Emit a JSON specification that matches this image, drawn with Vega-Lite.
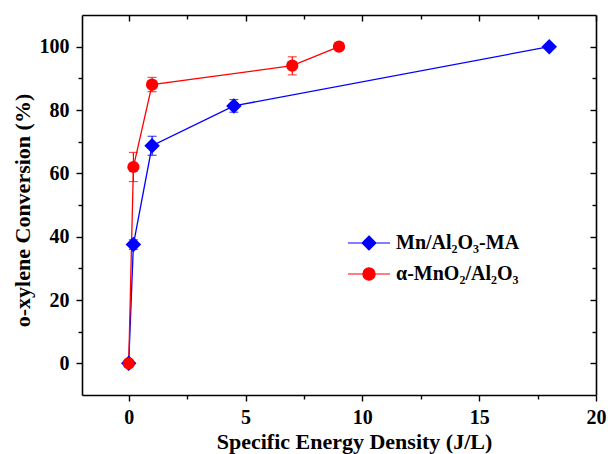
{
  "$schema": "https://vega.github.io/schema/vega-lite/v6.json",
  "width": 514,
  "height": 380,
  "autosize": "none",
  "padding": {"left": 82, "top": 15, "right": 12, "bottom": 59},
  "background": "white",
  "config": {"view": {"stroke": null}, "font": "Liberation Serif"},
  "data": {
    "values": [
      {"series": "Mn/Al₂O₃-MA", "x": 0, "y": 0},
      {"series": "Mn/Al₂O₃-MA", "x": 0.2, "y": 37.5, "lo": 36, "hi": 39},
      {"series": "Mn/Al₂O₃-MA", "x": 1, "y": 68.7, "lo": 65.7, "hi": 71.7},
      {"series": "Mn/Al₂O₃-MA", "x": 4.5, "y": 81.3, "lo": 79.3, "hi": 83.3},
      {"series": "Mn/Al₂O₃-MA", "x": 18, "y": 100},
      {"series": "α-MnO₂/Al₂O₃", "x": 0, "y": 0},
      {"series": "α-MnO₂/Al₂O₃", "x": 0.2, "y": 62, "lo": 57.4, "hi": 66.6},
      {"series": "α-MnO₂/Al₂O₃", "x": 1, "y": 88, "lo": 85.8, "hi": 90.3},
      {"series": "α-MnO₂/Al₂O₃", "x": 7, "y": 94, "lo": 91.1, "hi": 96.8},
      {"series": "α-MnO₂/Al₂O₃", "x": 9, "y": 100}
    ]
  },
  "resolve": {"axis": {"x": "independent", "y": "independent"}},
  "layer": [
    {
      "mark": {"type": "line", "strokeWidth": 1.3},
      "encoding": {
        "x": {
          "field": "x", "type": "quantitative",
          "scale": {"domain": [-2, 20], "nice": false, "zero": false},
          "axis": {
            "orient": "bottom",
            "values": [0, 2.5, 5, 7.5, 10, 12.5, 15, 17.5, 20],
            "labelExpr": "datum.value % 5 === 0 ? format(datum.value, 'd') : ''",
            "tickSize": {"condition": {"test": "datum.value % 5 === 0", "value": 6}, "value": 4},
            "title": "Specific Energy Density (J/L)",
            "grid": false,
            "labelFont": "Liberation Serif", "labelFontSize": 20, "labelFontWeight": "bold", "labelColor": "black",
            "labelPadding": 6, "labelFlush": false,
            "titleFont": "Liberation Serif", "titleFontSize": 22, "titleFontWeight": "bold", "titleColor": "black",
            "titlePadding": 4, "titleX": 272,
            "domainColor": "black", "domainWidth": 1.6, "tickColor": "black", "tickWidth": 1.4
          }
        },
        "y": {
          "field": "y", "type": "quantitative",
          "scale": {"domain": [-10, 110], "nice": false, "zero": false},
          "axis": {
            "orient": "left",
            "values": [0, 10, 20, 30, 40, 50, 60, 70, 80, 90, 100],
            "labelExpr": "datum.value % 20 === 0 ? format(datum.value, 'd') : ''",
            "tickSize": {"condition": {"test": "datum.value % 20 === 0", "value": 6}, "value": 4},
            "title": "o-xylene Conversion (%)",
            "grid": false,
            "labelFont": "Liberation Serif", "labelFontSize": 20, "labelFontWeight": "bold", "labelColor": "black",
            "labelPadding": 7, "labelFlush": false,
            "titleFont": "Liberation Serif", "titleFontSize": 22, "titleFontWeight": "bold", "titleColor": "black",
            "titlePadding": 5, "titleY": 195,
            "domainColor": "black", "domainWidth": 1.6, "tickColor": "black", "tickWidth": 1.4
          }
        },
        "color": {
          "field": "series", "type": "nominal",
          "scale": {"domain": ["Mn/Al₂O₃-MA", "α-MnO₂/Al₂O₃"], "range": ["#0000ff", "#ff0000"]},
          "legend": {
            "orient": "none", "legendX": 277, "legendY": 218, "title": null, "padding": 0,
            "labelFont": "Liberation Serif", "labelFontSize": 20, "labelFontWeight": "bold", "labelColor": "black",
            "symbolSize": 196, "labelOffset": 17, "rowPadding": 11,
            "encode": {
              "symbols": {
                "update": {
                  "shape": [
                    {"test": "indexof(datum.value, 'MA') >= 0", "value": "M-3,0H3M0,-1L1,0L0,1L-1,0Z"},
                    {"value": "M-3,0H3M-0.88,0A0.88,0.88,0,1,0,0.88,0A0.88,0.88,0,1,0,-0.88,0Z"}
                  ],
                  "fill": [
                    {"test": "indexof(datum.value, 'MA') >= 0", "value": "#0000ff"},
                    {"value": "#ff0000"}
                  ],
                  "strokeWidth": {"value": 1.1}
                }
              }
            }
          }
        }
      }
    },
    {
      "mark": {"type": "rule", "strokeWidth": 1.2},
      "encoding": {
        "x": {
          "field": "x", "type": "quantitative",
          "axis": {
            "orient": "top",
            "values": [0, 2.5, 5, 7.5, 10, 12.5, 15, 17.5, 20],
            "labels": false, "title": null, "grid": false,
            "tickSize": {"condition": {"test": "datum.value % 5 === 0", "value": -6}, "value": -4},
            "domainColor": "black", "domainWidth": 1.6, "tickColor": "black", "tickWidth": 1.4
          }
        },
        "y": {
          "field": "lo", "type": "quantitative",
          "axis": {
            "orient": "right",
            "values": [0, 10, 20, 30, 40, 50, 60, 70, 80, 90, 100],
            "labels": false, "title": null, "grid": false,
            "tickSize": {"condition": {"test": "datum.value % 20 === 0", "value": -6}, "value": -4},
            "domainColor": "black", "domainWidth": 1.6, "tickColor": "black", "tickWidth": 1.4
          }
        },
        "y2": {"field": "hi"},
        "color": {"condition": {"test": "datum.series === 'α-MnO₂/Al₂O₃'", "value": "#ff0000"}, "value": "#0000ff"}
      }
    },
    {
      "mark": {"type": "tick", "orient": "horizontal", "size": 9, "thickness": 1.2},
      "encoding": {
        "x": {"field": "x", "type": "quantitative", "axis": null},
        "y": {"field": "lo", "type": "quantitative", "axis": null},
        "color": {"condition": {"test": "datum.series === 'α-MnO₂/Al₂O₃'", "value": "#ff0000"}, "value": "#0000ff"}
      }
    },
    {
      "mark": {"type": "tick", "orient": "horizontal", "size": 9, "thickness": 1.2},
      "encoding": {
        "x": {"field": "x", "type": "quantitative", "axis": null},
        "y": {"field": "hi", "type": "quantitative", "axis": null},
        "color": {"condition": {"test": "datum.series === 'α-MnO₂/Al₂O₃'", "value": "#ff0000"}, "value": "#0000ff"}
      }
    },
    {
      "mark": {"type": "point", "filled": true, "opacity": 1},
      "encoding": {
        "x": {"field": "x", "type": "quantitative", "axis": null},
        "y": {"field": "y", "type": "quantitative", "axis": null},
        "color": {"condition": {"test": "datum.series === 'α-MnO₂/Al₂O₃'", "value": "#ff0000"}, "value": "#0000ff"},
        "shape": {"condition": {"test": "datum.series === 'α-MnO₂/Al₂O₃'", "value": "circle"}, "value": "diamond"},
        "size": {"condition": {"test": "datum.series === 'α-MnO₂/Al₂O₃'", "value": 150}, "value": 240}
      }
    }
  ]
}
